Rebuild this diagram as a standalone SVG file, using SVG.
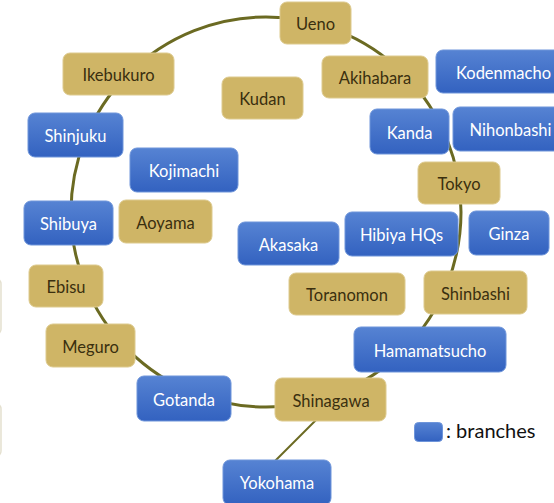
<svg xmlns="http://www.w3.org/2000/svg" width="554" height="503" viewBox="0 0 554 503">
<defs>
<linearGradient id="bg" x1="0" y1="0" x2="0" y2="1">
<stop offset="0" stop-color="#5683d3"/>
<stop offset="1" stop-color="#3362c0"/>
</linearGradient>
<style>
.tan rect{fill:#cfb566;stroke:#ddca8e;stroke-width:1}
.tan text{fill:#3a2f0f;font-family:Lato,"Liberation Sans",sans-serif;font-size:16.5px;text-anchor:middle;dominant-baseline:central}
.blue rect{fill:url(#bg);stroke:#6e95da;stroke-width:1}
.blue text{fill:#ffffff;font-family:Lato,"Liberation Sans",sans-serif;font-size:16.5px;text-anchor:middle;dominant-baseline:central}
.line{fill:none;stroke:#6b6a22}
</style>
</defs>
<rect width="554" height="503" fill="#ffffff"/>
<g id="faint" fill="none" stroke="#e4e0cf" stroke-width="1.5">
<rect x="-60" y="278" width="61" height="57" rx="6"/>
<rect x="-60" y="403" width="61" height="54" rx="6"/>
</g>
<g id="connectors">
<circle class="line" cx="266" cy="212" r="195" stroke-width="3"/>
<line class="line" x1="324" y1="412" x2="272" y2="464" stroke-width="2"/>
</g>
<g id="ueno" class="tan"><rect x="280" y="2" width="71" height="42" rx="7"/><text x="315.5" y="24">Ueno</text></g>
<g id="ikebukuro" class="tan"><rect x="63" y="53" width="111" height="42" rx="7"/><text x="118.5" y="75">Ikebukuro</text></g>
<g id="kudan" class="tan"><rect x="222" y="77" width="81" height="42" rx="7"/><text x="262.5" y="99">Kudan</text></g>
<g id="akihabara" class="tan"><rect x="322" y="56" width="106" height="42" rx="7"/><text x="375" y="78">Akihabara</text></g>
<g id="tokyo" class="tan"><rect x="418" y="162" width="82" height="42" rx="7"/><text x="459" y="184">Tokyo</text></g>
<g id="aoyama" class="tan"><rect x="119" y="200" width="93" height="43" rx="7"/><text x="165.5" y="222.5">Aoyama</text></g>
<g id="ebisu" class="tan"><rect x="29" y="265" width="74" height="42" rx="7"/><text x="66" y="287">Ebisu</text></g>
<g id="toranomon" class="tan"><rect x="289" y="273" width="116" height="42" rx="7"/><text x="347" y="295">Toranomon</text></g>
<g id="shinbashi" class="tan"><rect x="424" y="271" width="103" height="43" rx="7"/><text x="475.5" y="293.5">Shinbashi</text></g>
<g id="meguro" class="tan"><rect x="46" y="324" width="89" height="43" rx="7"/><text x="90.5" y="346.5">Meguro</text></g>
<g id="shinagawa" class="tan"><rect x="275" y="378" width="111" height="43" rx="7"/><text x="331" y="400.5">Shinagawa</text></g>
<g id="kodenmacho" class="blue"><rect x="436" y="50" width="135" height="43" rx="7"/><text x="503.5" y="72.5">Kodenmacho</text></g>
<g id="nihonbashi" class="blue"><rect x="453" y="107" width="115" height="44" rx="7"/><text x="510.5" y="130">Nihonbashi</text></g>
<g id="shinjuku" class="blue"><rect x="28" y="113" width="95" height="44" rx="7"/><text x="75.5" y="136">Shinjuku</text></g>
<g id="kanda" class="blue"><rect x="370" y="109" width="79" height="45" rx="7"/><text x="409.5" y="132.5">Kanda</text></g>
<g id="kojimachi" class="blue"><rect x="130" y="148" width="108" height="44" rx="7"/><text x="184" y="171">Kojimachi</text></g>
<g id="shibuya" class="blue"><rect x="24" y="201" width="89" height="44" rx="7"/><text x="68.5" y="224">Shibuya</text></g>
<g id="akasaka" class="blue"><rect x="238" y="222" width="101" height="43" rx="7"/><text x="288.5" y="244.5">Akasaka</text></g>
<g id="hibiya" class="blue"><rect x="345" y="212" width="113" height="44" rx="7"/><text x="401.5" y="235">Hibiya HQs</text></g>
<g id="ginza" class="blue"><rect x="469" y="211" width="80" height="44" rx="7"/><text x="509" y="234">Ginza</text></g>
<g id="hamamatsucho" class="blue"><rect x="354" y="327" width="152" height="45" rx="7"/><text x="430" y="350.5">Hamamatsucho</text></g>
<g id="gotanda" class="blue"><rect x="137" y="376" width="94" height="45" rx="7"/><text x="184" y="399.5">Gotanda</text></g>
<g id="yokohama" class="blue"><rect x="223" y="460" width="108" height="45" rx="7"/><text x="277" y="483">Yokohama</text></g>
<g id="legend">
<rect x="414.5" y="422.5" width="28" height="19" rx="4" fill="url(#bg)" stroke="#6e95da"/>
<text x="446" y="438" font-family="Lato,'Liberation Sans',sans-serif" font-size="20" fill="#111111">: branches</text>
</g>
</svg>
